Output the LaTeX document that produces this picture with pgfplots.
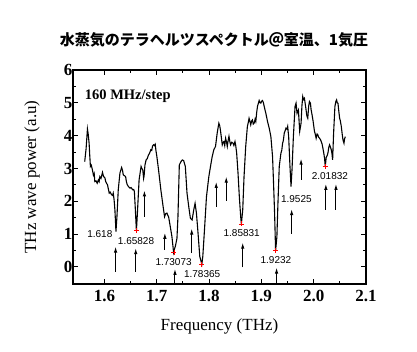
\documentclass[border=0pt]{standalone}
\usepackage{pgfplots}
\pgfplotsset{compat=1.18}
\usepackage{pgfplotstable}
\usetikzlibrary{arrows.meta}
\usepackage{fontspec}
\setmainfont{Liberation Serif}
\newfontfamily\arial{Liberation Sans}
\newfontfamily\cjk{Noto Sans CJK JP}

\pgfplotstableread{
x y
1.5624 3.21
1.5650 3.60
1.5676 4.20
1.5690 4.05
1.5708 3.77
1.5720 3.40
1.5733 3.06
1.5750 3.10
1.5772 2.95
1.5790 2.80
1.5805 2.85
1.5817 2.60
1.5840 2.62
1.5862 2.55
1.5885 2.65
1.5900 2.60
1.5913 2.75
1.5935 2.70
1.5964 2.88
1.5985 2.75
1.6009 2.72
1.6025 2.60
1.6041 2.55
1.6060 2.50
1.6075 2.38
1.6092 2.25
1.6110 2.28
1.6137 2.20
1.6155 2.18
1.6169 2.25
1.6185 2.05
1.6201 1.74
1.6221 1.08
1.6240 1.53
1.6265 2.35
1.6297 2.86
1.6329 3.03
1.6345 2.95
1.6362 2.80
1.6385 2.78
1.6406 2.75
1.6420 2.60
1.6438 2.50
1.6460 2.45
1.6490 2.40
1.6510 2.42
1.6541 2.35
1.6560 2.36
1.6573 2.30
1.6592 1.74
1.6612 1.10
1.6631 1.64
1.6663 2.65
1.6701 3.06
1.6715 3.00
1.6733 2.96
1.6750 2.70
1.6759 2.78
1.6775 3.10
1.6797 3.26
1.6820 3.30
1.6842 3.41
1.6860 3.45
1.6887 3.57
1.6905 3.55
1.6920 3.68
1.6938 3.72
1.6955 3.70
1.6971 3.74
1.6985 3.55
1.7003 3.36
1.7035 2.96
1.7079 2.35
1.7118 1.89
1.7150 1.53
1.7170 1.62
1.7195 1.64
1.7210 1.58
1.7227 1.53
1.7259 1.23
1.7291 0.92
1.7323 0.44
1.7340 0.55
1.7355 0.62
1.7387 0.87
1.7406 1.53
1.7432 3.11
1.7464 3.21
1.7490 3.26
1.7515 3.24
1.7547 3.06
1.7579 2.25
1.7612 1.84
1.7644 1.48
1.7676 1.43
1.7708 1.74
1.7733 1.94
1.7759 1.64
1.7785 1.13
1.7823 0.32
1.7862 0.08
1.7881 0.32
1.7913 1.13
1.7951 2.14
1.7996 2.75
1.8028 3.06
1.8060 3.36
1.8092 3.57
1.8124 3.67
1.8156 4.08
1.8188 4.38
1.8205 4.30
1.8221 4.13
1.8253 3.72
1.8270 3.80
1.8285 3.82
1.8300 3.70
1.8317 3.92
1.8335 3.80
1.8349 3.67
1.8365 3.85
1.8381 3.98
1.8400 3.80
1.8413 3.72
1.8435 3.80
1.8458 3.77
1.8475 3.70
1.8496 3.82
1.8510 3.70
1.8528 3.47
1.8554 2.86
1.8579 2.14
1.8605 1.53
1.8618 1.31
1.8644 1.74
1.8669 2.75
1.8701 3.67
1.8733 4.28
1.8750 4.40
1.8765 4.53
1.8780 4.45
1.8797 4.33
1.8815 4.45
1.8829 4.48
1.8845 4.35
1.8862 4.38
1.8880 4.50
1.8894 4.43
1.8910 4.70
1.8926 4.89
1.8958 5.07
1.8975 5.00
1.8990 4.99
1.9005 5.05
1.9022 5.07
1.9040 5.00
1.9054 4.89
1.9086 4.68
1.9118 4.43
1.9150 4.23
1.9182 3.97
1.9214 3.36
1.9233 2.55
1.9253 1.64
1.9272 0.49
1.9297 0.92
1.9317 1.94
1.9342 3.06
1.9374 3.47
1.9390 3.55
1.9406 3.77
1.9420 3.85
1.9438 4.08
1.9455 4.15
1.9471 4.23
1.9490 4.20
1.9503 4.28
1.9522 3.97
1.9547 3.06
1.9567 2.45
1.9586 2.96
1.9612 3.97
1.9644 4.89
1.9663 4.99
1.9682 4.68
1.9708 4.78
1.9733 4.13
1.9759 4.38
1.9775 4.90
1.9791 5.19
1.9805 5.10
1.9823 5.14
1.9840 4.95
1.9855 4.78
1.9870 4.60
1.9887 4.53
1.9905 4.90
1.9919 5.04
1.9938 4.99
1.9950 4.80
1.9964 4.68
1.9990 4.43
2.0015 4.13
2.0030 4.05
2.0047 3.92
2.0065 4.05
2.0079 4.03
2.0095 3.95
2.0112 3.92
2.0130 3.88
2.0144 3.82
2.0160 3.75
2.0176 3.62
2.0195 3.45
2.0208 3.31
2.0221 3.06
2.0240 3.34
2.0260 3.40
2.0272 3.47
2.0290 3.65
2.0304 3.72
2.0320 3.65
2.0336 3.57
2.0350 3.45
2.0362 3.26
2.0381 4.08
2.0406 4.89
2.0425 5.05
2.0438 5.09
2.0450 5.00
2.0464 4.99
2.0480 4.75
2.0496 4.53
2.0510 4.45
2.0528 4.28
2.0545 4.05
2.0560 3.87
2.0579 3.77
2.0590 3.90
2.0605 3.97
}\spectrum

\pgfplotstableread{
x y v
1.6214 -0.14 0.76
1.6599 -0.14 0.71
1.6765 1.53 0.80
1.7156 0.52 0.52
1.7349 -0.52 0.46
1.7669 0.42 0.75
1.8137 1.84 0.75
1.8329 2.02 0.73
1.8644 -0.01 0.75
1.9291 -0.52 0.50
1.9579 1.01 0.75
1.9759 2.65 0.65
2.0233 1.74 0.79
2.0426 1.74 0.79
}\arrowsdata

\pgfplotstableread{
x y
1.6612 1.10
1.7329 0.44
1.7862 0.08
1.8618 1.31
1.9272 0.49
2.0221 3.06
}\dips

\begin{document}
\begin{tikzpicture}
\useasboundingbox (-73pt,-68pt) rectangle (344pt,284pt);
\begin{axis}[
  at={(0pt,0pt)}, anchor=south west,
  scale only axis, width=293pt, height=214pt,
  xmin=1.54, xmax=2.1, ymin=-0.52, ymax=6,
  xtick={1.6,1.7,1.8,1.9,2.0,2.1},
  ytick={0,1,2,3,4,5,6},
  minor x tick num=1, minor y tick num=1,
  tick align=inside,
  major tick length=5pt, minor tick length=3pt,
  every tick/.style={black, line width=1pt},
  axis line style={line width=1.6pt},
  xticklabel style={font=\fontsize{17}{17}\selectfont\bfseries, /pgf/number format/fixed, /pgf/number format/fixed zerofill, /pgf/number format/precision=1, yshift=-3pt},
  yticklabel style={font=\fontsize{17}{17}\selectfont\bfseries, xshift=3pt},
  /pgf/number format/assume math mode=true,
  xlabel={Frequency (THz)},
  ylabel={THz wave power (a.u)},
  label style={font=\fontsize{17}{17}\selectfont},
  xlabel style={at={(axis description cs:0.5,-0.196)}, anchor=center},
  ylabel style={at={(axis description cs:-0.140,0.5)}, anchor=center},
  clip=false,
]
\addplot[black, line width=1.1pt] table[x=x, y=y] {\spectrum};
\addplot[black, line width=1pt, -{Latex[length=6pt,width=3.5pt]}, quiver={u=0, v=\thisrow{v}}] table[x=x, y=y] {\arrowsdata};
\addplot[red, only marks, mark=+, mark size=2.5pt, mark options={line width=0.8pt}] table[x=x, y=y] {\dips};
\node[font=\fontsize{14.5}{14.5}\selectfont\bfseries, anchor=west] at (axis cs:1.556,5.21) {160 MHz/step};
\begin{scope}[every node/.style={font=\arial\fontsize{10}{10}\selectfont}]
\node at (axis cs:1.5913,1.00) {1.618};
\node at (axis cs:1.6605,0.80) {1.65828};
\node at (axis cs:1.7323,0.16) {1.73073};
\node at (axis cs:1.7868,-0.21) {1.78365};
\node at (axis cs:1.8624,1.03) {1.85831};
\node at (axis cs:1.9278,0.21) {1.9232};
\node at (axis cs:1.9669,2.06) {1.9525};
\node at (axis cs:2.0310,2.77) {2.01832};
\end{scope}
\end{axis}
\node[font=\cjk\bfseries\fontsize{15}{15}\selectfont] at (141pt,244pt) {水蒸気のテラヘルツスペクトル＠室温、1気圧};
\end{tikzpicture}
\end{document}
